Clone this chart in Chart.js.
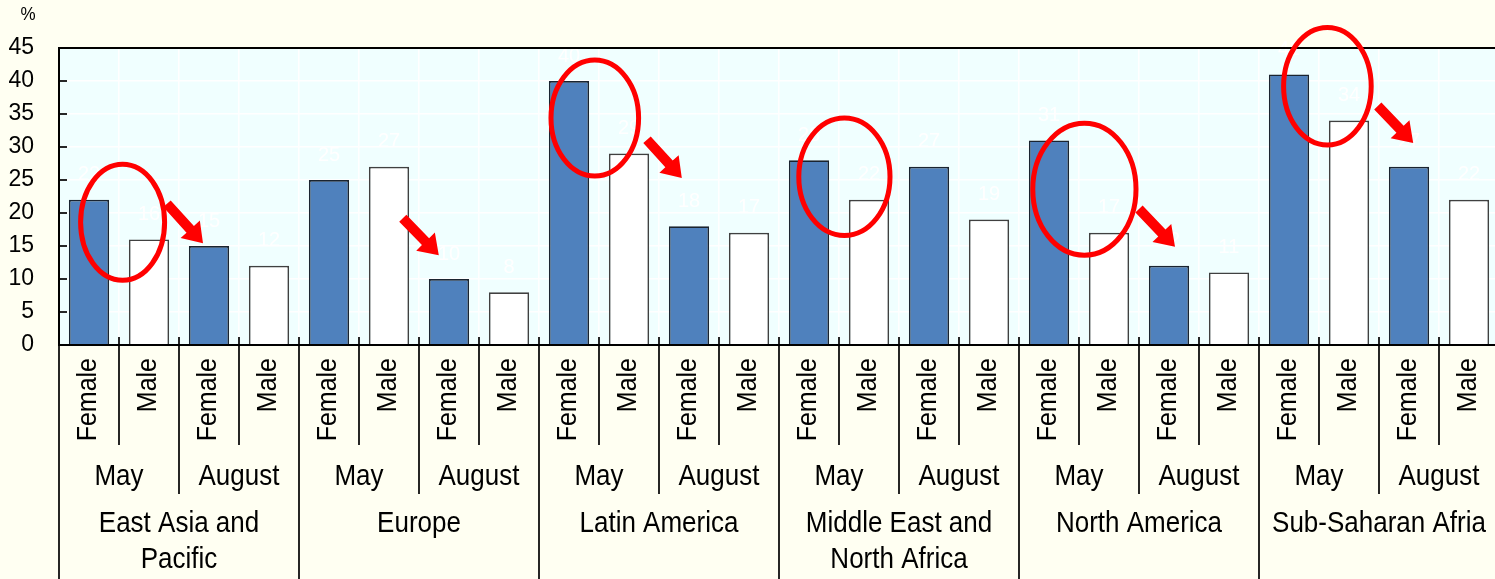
<!DOCTYPE html>
<html>
<head>
<meta charset="utf-8">
<script src="https://cdn.jsdelivr.net/npm/chart.js@4.4.1/dist/chart.umd.min.js"></script>
<style>
  html, body { margin: 0; padding: 0; background: #fffff2; overflow: hidden; }
  #wrap { width: 1499px; height: 579px; }
</style>
</head>
<body>
<div id="wrap"><canvas id="chart" width="1499" height="579"></canvas></div>
<script>
// Regions, months and sexes that make up the three-level x axis
const regions = [
  ['East Asia and', 'Pacific'],
  ['Europe'],
  ['Latin America'],
  ['Middle East and', 'North Africa'],
  ['North America'],
  ['Sub-Saharan Afria']
];
const months = ['May', 'August'];
const sexes = ['Female', 'Male'];

// Shares (%), one entry per region
const femaleMay = [22, 25, 40, 28, 31, 41];
const maleMay   = [16, 27, 29, 22, 17, 34];
const femaleAug = [15, 10, 18, 27, 12, 27];
const maleAug   = [12,  8, 17, 19, 11, 22];

const yTicks = [0, 5, 10, 15, 20, 25, 30, 35, 40, 45];

// Red annotations, in axis units (category index, % value)
const circles = [
  { cx: 0.56,  cy: 18.6, rx: 0.70, ry: 8.8 },
  { cx: 8.43,  cy: 34.4, rx: 0.73, ry: 8.8 },
  { cx: 12.59, cy: 25.5, rx: 0.76, ry: 8.9 },
  { cx: 16.59, cy: 23.6, rx: 0.86, ry: 10.0 },
  { cx: 20.64, cy: 39.2, rx: 0.73, ry: 8.9 }
];
const arrows = [
  { x0: 1.30,  y0: 21.4, x1: 1.90,  y1: 15.4 },
  { x0: 5.23,  y0: 19.2, x1: 5.83,  y1: 13.6 },
  { x0: 9.30,  y0: 31.1, x1: 9.88,  y1: 25.3 },
  { x0: 17.50, y0: 20.6, x1: 18.10, y1: 14.9 },
  { x0: 21.48, y0: 36.2, x1: 22.07, y1: 30.6 }
];

// Flatten into the 24 bars: region > month > sex
const labels = [];
const values = [];
const colors = [];
const borders = [];
regions.forEach((r, i) => {
  const byMonth = [[femaleMay[i], maleMay[i]], [femaleAug[i], maleAug[i]]];
  months.forEach((m, k) => {
    sexes.forEach((s, n) => {
      labels.push(s);
      values.push(byMonth[k][n]);
      colors.push(n === 0 ? '#4f81bd' : '#ffffff');
      borders.push(n === 0 ? '#1a2430' : '#404040');
    });
  });
});

const FONT = "'Liberation Sans', Arial, sans-serif";

// text a little taller than wide, like the original
function tallText(ctx, t, x, y) {
  ctx.save();
  ctx.translate(x, y);
  ctx.scale(1, 1.1);
  ctx.fillText(t, 0, 0);
  ctx.restore();
}

const background = {
  id: 'background',
  beforeDraw(chart) {
    const { ctx, chartArea: a } = chart;
    ctx.save();
    ctx.fillStyle = '#fffff2';
    ctx.fillRect(0, 0, chart.width, chart.height);
    ctx.fillStyle = '#f0ffff';
    ctx.fillRect(a.left, a.top, a.right - a.left, a.bottom - a.top);
    ctx.restore();
  }
};

const decorations = {
  id: 'decorations',
  afterDatasetsDraw(chart) {
    const { ctx, chartArea: a } = chart;
    const xs = chart.scales.x;
    const ys = chart.scales.y;
    const bars = chart.getDatasetMeta(0).data;
    ctx.save();

    // faint white value labels
    ctx.fillStyle = '#ffffff';
    ctx.font = '20px ' + FONT;
    ctx.textAlign = 'center';
    ctx.textBaseline = 'middle';
    bars.forEach((b, i) => ctx.fillText(String(values[i]), b.x, b.y - 25));

    // frame
    ctx.strokeStyle = '#000';
    ctx.lineWidth = 2;
    ctx.strokeRect(a.left, a.top, a.right - a.left, a.bottom - a.top);

    // inner y tick marks
    ctx.lineWidth = 1.7;
    yTicks.forEach(v => {
      const y = ys.getPixelForValue(v);
      ctx.beginPath();
      ctx.moveTo(a.left, y);
      ctx.lineTo(a.left + 8, y);
      ctx.stroke();
    });

    // x axis separators for the three levels
    for (let j = 0; j <= values.length; j++) {
      const x = xs.getPixelForValue(j - 0.5);
      let bottom = 445;
      if (j % 4 === 0) bottom = chart.height;
      else if (j % 2 === 0) bottom = 494;
      ctx.beginPath();
      ctx.moveTo(x, a.bottom - 8);
      ctx.lineTo(x, bottom);
      ctx.stroke();
    }

    ctx.fillStyle = '#000';
    // sex labels, rotated
    ctx.font = '25px ' + FONT;
    ctx.textAlign = 'right';
    ctx.textBaseline = 'middle';
    labels.forEach((t, i) => {
      ctx.save();
      ctx.translate(xs.getPixelForValue(i), 358);
      ctx.rotate(-Math.PI / 2);
      ctx.scale(1, 1.08);
      ctx.fillText(t, 0, 0);
      ctx.restore();
    });

    // months
    ctx.font = '26px ' + FONT;
    ctx.textAlign = 'center';
    for (let p = 0; p < values.length / 2; p++) {
      tallText(ctx, months[p % 2], xs.getPixelForValue(p * 2 + 0.5), 477);
    }
    // regions
    regions.forEach((lines, i) => {
      const x = xs.getPixelForValue(i * 4 + 1.5);
      lines.forEach((t, l) => tallText(ctx, t, x, 524 + l * 36));
    });

    // % unit
    ctx.font = '17px ' + FONT;
    tallText(ctx, '%', 28, 15);

    // red circles
    const catW = xs.getPixelForValue(1) - xs.getPixelForValue(0);
    ctx.strokeStyle = '#ff0000';
    ctx.lineWidth = 5;
    circles.forEach(c => {
      const cx = xs.getPixelForValue(c.cx);
      const cy = ys.getPixelForValue(c.cy);
      const ry = ys.getPixelForValue(0) - ys.getPixelForValue(c.ry);
      ctx.beginPath();
      ctx.ellipse(cx, cy, c.rx * catW, ry, 0, 0, Math.PI * 2);
      ctx.stroke();
    });

    // red arrows
    ctx.fillStyle = '#ff0000';
    arrows.forEach(ar => {
      const x0 = xs.getPixelForValue(ar.x0), y0 = ys.getPixelForValue(ar.y0);
      const x1 = xs.getPixelForValue(ar.x1), y1 = ys.getPixelForValue(ar.y1);
      const len = Math.hypot(x1 - x0, y1 - y0);
      const ux = (x1 - x0) / len, uy = (y1 - y0) / len;
      const px = -uy, py = ux;
      const head = 19, hw = 13, sw = 5;
      const bx = x1 - ux * head, by = y1 - uy * head;
      ctx.beginPath();
      ctx.moveTo(x0 + px * sw, y0 + py * sw);
      ctx.lineTo(bx + px * sw, by + py * sw);
      ctx.lineTo(bx + px * hw, by + py * hw);
      ctx.lineTo(x1, y1);
      ctx.lineTo(bx - px * hw, by - py * hw);
      ctx.lineTo(bx - px * sw, by - py * sw);
      ctx.lineTo(x0 - px * sw, y0 - py * sw);
      ctx.closePath();
      ctx.fill();
    });

    ctx.restore();
  }
};

new Chart(document.getElementById('chart'), {
  type: 'bar',
  data: {
    labels: labels,
    datasets: [{
      data: values,
      backgroundColor: colors,
      borderColor: borders,
      borderWidth: 1.7,
      barPercentage: 0.67,
      categoryPercentage: 1.0
    }]
  },
  options: {
    responsive: false,
    animation: false,
    devicePixelRatio: 1,
    layout: { padding: { top: 48, left: 0, right: 0, bottom: 0 } },
    plugins: {
      legend: { display: false },
      tooltip: { enabled: false }
    },
    scales: {
      x: {
        offset: true,
        ticks: { display: false },
        grid: { color: '#ffffff', lineWidth: 1.5, drawTicks: false, offset: true },
        border: { display: false },
        afterFit(s) { s.height = 234; }
      },
      y: {
        min: 0,
        max: 45,
        ticks: {
          stepSize: 5,
          color: '#000',
          padding: 25,
          font: { size: 23, family: FONT }
        },
        grid: { color: '#ffffff', lineWidth: 1.5, drawTicks: false },
        border: { display: false },
        afterFit(s) { s.width = 59; }
      }
    }
  },
  plugins: [background, decorations]
});
</script>
</body>
</html>
